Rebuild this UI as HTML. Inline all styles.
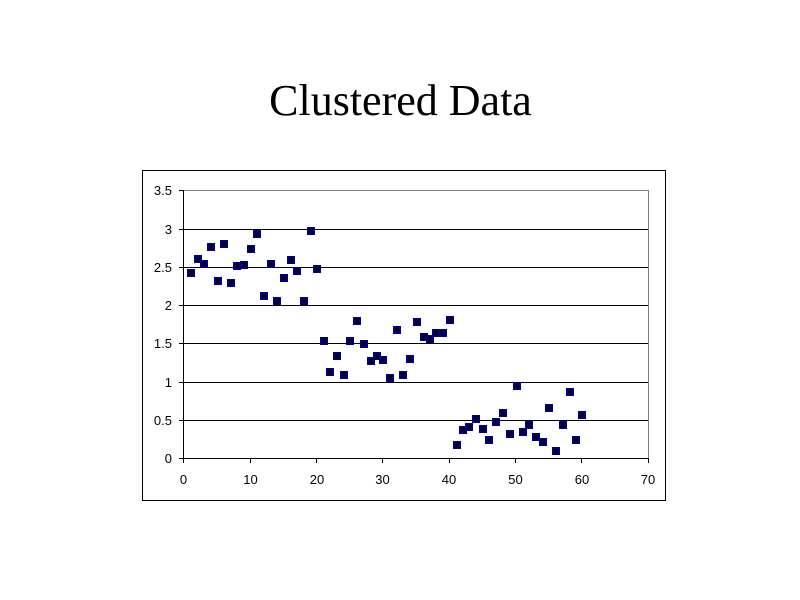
<!DOCTYPE html>
<html><head><meta charset="utf-8"><style>
html,body{margin:0;padding:0;background:#fff;}
svg{display:block;}
</style></head><body>
<svg width="800" height="600" xmlns="http://www.w3.org/2000/svg">
<rect width="800" height="600" fill="#fff"/>
<text x="400.5" y="115" text-anchor="middle" font-family="Liberation Serif, serif" font-size="44" fill="#000">Clustered Data</text>
<rect x="142.5" y="170.5" width="523" height="330" fill="none" stroke="#000" stroke-width="1"/>
<g stroke="#000" stroke-width="1">
<line x1="183" y1="229.5" x2="648" y2="229.5"/>
<line x1="183" y1="267.5" x2="648" y2="267.5"/>
<line x1="183" y1="305.5" x2="648" y2="305.5"/>
<line x1="183" y1="343.5" x2="648" y2="343.5"/>
<line x1="183" y1="382.5" x2="648" y2="382.5"/>
<line x1="183" y1="420.5" x2="648" y2="420.5"/>
</g>
<g stroke="#808080" stroke-width="1">
<line x1="183" y1="190.5" x2="648" y2="190.5"/>
<line x1="648.5" y1="190" x2="648.5" y2="458"/>
</g>
<g stroke="#000" stroke-width="1">
<line x1="183.5" y1="190" x2="183.5" y2="458"/>
<line x1="183" y1="458.5" x2="649" y2="458.5"/>
<line x1="179" y1="190.5" x2="183" y2="190.5"/>
<line x1="179" y1="229.5" x2="183" y2="229.5"/>
<line x1="179" y1="267.5" x2="183" y2="267.5"/>
<line x1="179" y1="305.5" x2="183" y2="305.5"/>
<line x1="179" y1="343.5" x2="183" y2="343.5"/>
<line x1="179" y1="382.5" x2="183" y2="382.5"/>
<line x1="179" y1="420.5" x2="183" y2="420.5"/>
<line x1="179" y1="458.5" x2="183" y2="458.5"/>
<line x1="183.5" y1="458" x2="183.5" y2="463"/>
<line x1="250.5" y1="458" x2="250.5" y2="463"/>
<line x1="316.5" y1="458" x2="316.5" y2="463"/>
<line x1="382.5" y1="458" x2="382.5" y2="463"/>
<line x1="449.5" y1="458" x2="449.5" y2="463"/>
<line x1="515.5" y1="458" x2="515.5" y2="463"/>
<line x1="581.5" y1="458" x2="581.5" y2="463"/>
<line x1="648.5" y1="458" x2="648.5" y2="463"/>
</g>
<g font-family="Liberation Sans, sans-serif" font-size="13" fill="#000" text-anchor="end">
<text x="172" y="195">3.5</text>
<text x="172" y="234">3</text>
<text x="172" y="272">2.5</text>
<text x="172" y="310">2</text>
<text x="172" y="348">1.5</text>
<text x="172" y="387">1</text>
<text x="172" y="425">0.5</text>
<text x="172" y="463">0</text>
</g>
<g font-family="Liberation Sans, sans-serif" font-size="13" fill="#000" text-anchor="middle">
<text x="183.5" y="484">0</text>
<text x="250.5" y="484">10</text>
<text x="317" y="484">20</text>
<text x="382.5" y="484">30</text>
<text x="449" y="484">40</text>
<text x="515.5" y="484">50</text>
<text x="582" y="484">60</text>
<text x="648" y="484">70</text>
</g>
<defs>
<g id="m">
<rect x="-4" y="-4" width="8" height="8" fill="#000080"/>
<path d="M0,-2.5V2.5M-2,-2L2,2M2,-2L-2,2" stroke="#000" stroke-width="1" fill="none"/>
</g>
</defs>
<g>
<use href="#m" x="191" y="273"/>
<use href="#m" x="198" y="259"/>
<use href="#m" x="204" y="264"/>
<use href="#m" x="211" y="247"/>
<use href="#m" x="218" y="281"/>
<use href="#m" x="224" y="244"/>
<use href="#m" x="231" y="283"/>
<use href="#m" x="237" y="266"/>
<use href="#m" x="244" y="265"/>
<use href="#m" x="251" y="249"/>
<use href="#m" x="257" y="234"/>
<use href="#m" x="264" y="296"/>
<use href="#m" x="271" y="264"/>
<use href="#m" x="277" y="301"/>
<use href="#m" x="284" y="278"/>
<use href="#m" x="291" y="260"/>
<use href="#m" x="297" y="271"/>
<use href="#m" x="304" y="301"/>
<use href="#m" x="311" y="231"/>
<use href="#m" x="317" y="269"/>
<use href="#m" x="324" y="341"/>
<use href="#m" x="330" y="372"/>
<use href="#m" x="337" y="356"/>
<use href="#m" x="344" y="375"/>
<use href="#m" x="350" y="341"/>
<use href="#m" x="357" y="321"/>
<use href="#m" x="364" y="344"/>
<use href="#m" x="371" y="361"/>
<use href="#m" x="377" y="356"/>
<use href="#m" x="383" y="360"/>
<use href="#m" x="390" y="378"/>
<use href="#m" x="397" y="330"/>
<use href="#m" x="403" y="375"/>
<use href="#m" x="410" y="359"/>
<use href="#m" x="417" y="322"/>
<use href="#m" x="424" y="337"/>
<use href="#m" x="430" y="339"/>
<use href="#m" x="436" y="333"/>
<use href="#m" x="443" y="333"/>
<use href="#m" x="450" y="320"/>
<use href="#m" x="457" y="445"/>
<use href="#m" x="463" y="430"/>
<use href="#m" x="469" y="427"/>
<use href="#m" x="476" y="419"/>
<use href="#m" x="483" y="429"/>
<use href="#m" x="489" y="440"/>
<use href="#m" x="496" y="422"/>
<use href="#m" x="503" y="413"/>
<use href="#m" x="510" y="434"/>
<use href="#m" x="517" y="386"/>
<use href="#m" x="523" y="432"/>
<use href="#m" x="529" y="425"/>
<use href="#m" x="536" y="437"/>
<use href="#m" x="543" y="442"/>
<use href="#m" x="549" y="408"/>
<use href="#m" x="556" y="451"/>
<use href="#m" x="563" y="425"/>
<use href="#m" x="570" y="392"/>
<use href="#m" x="576" y="440"/>
<use href="#m" x="582" y="415"/>
</g>
</svg>
</body></html>
